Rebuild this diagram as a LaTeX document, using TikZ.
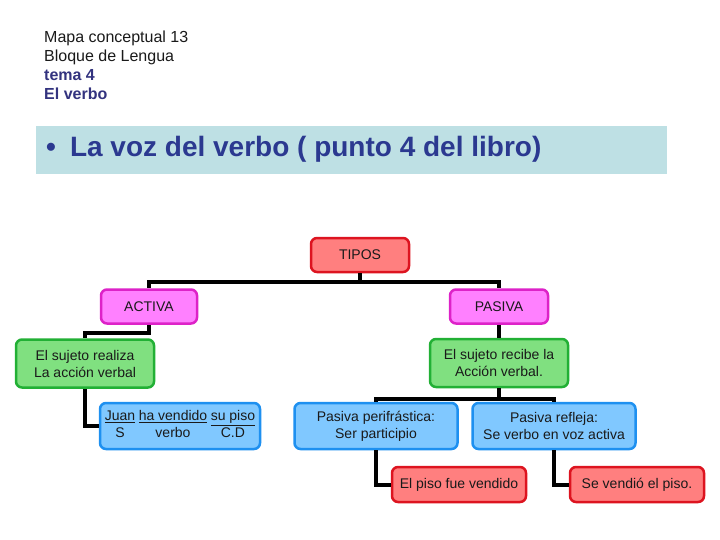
\documentclass[tikz,border=0pt]{standalone}
\usepackage{fontspec}
\setmainfont{Liberation Sans}
\definecolor{hdrblue}{HTML}{33337F}
\definecolor{titleblue}{HTML}{2B3990}
\definecolor{barbg}{HTML}{BEE0E4}
\definecolor{redfill}{HTML}{FF7F7F}
\definecolor{redline}{HTML}{DD1420}
\definecolor{magfill}{HTML}{FF80FF}
\definecolor{magline}{HTML}{DD22C8}
\definecolor{grnfill}{HTML}{80E080}
\definecolor{grnline}{HTML}{22B035}
\definecolor{blufill}{HTML}{80C8FF}
\definecolor{bluline}{HTML}{1E90F0}
\definecolor{txt}{HTML}{1A1A1A}
\begin{document}
\begin{tikzpicture}[x=1pt,y=-1pt,
  box/.style={rounded corners=6pt,line width=2.5pt,align=center,inner sep=0pt,
    font=\fontsize{14}{17}\selectfont,text=txt},
  redbox/.style={box,fill=redfill,draw=redline},
  magbox/.style={box,fill=magfill,draw=magline},
  grnbox/.style={box,fill=grnfill,draw=grnline},
  blubox/.style={box,fill=blufill,draw=bluline},
  conn/.style={line width=4pt,black}]
\useasboundingbox (0,0) rectangle (720,540);
\fill[white] (0,0) rectangle (720,540);
% header
\node[anchor=base west,align=left,inner sep=0pt,font=\fontsize{16}{19}\selectfont,text=txt] (hdr) at (44,100)
  {Mapa conceptual 13\\Bloque de Lengua\\\textbf{\color{hdrblue}tema 4}\\\textbf{\color{hdrblue}El verbo}};
% title bar
\fill[barbg] (36,126) rectangle (667,174);
\node[anchor=base west,inner sep=0pt,font=\fontsize{28}{32}\selectfont\bfseries,text=titleblue] (title) at (46,157)
  {\textbullet\hspace{14pt}La voz del verbo ( punto 4 del libro)};
% nodes
\node[redbox,minimum width=98pt,minimum height=34pt] (tipos) at (360,255) {TIPOS};
\node[magbox,minimum width=96pt,minimum height=34pt] (activa) at (149,306.5) {ACTIVA};
\node[magbox,minimum width=98pt,minimum height=34pt] (pasiva) at (499,306.5) {PASIVA};
\node[grnbox,minimum width=138pt,minimum height=48pt] (g1) at (85,363.5) {El sujeto realiza\\La acción verbal};
\node[grnbox,minimum width=138pt,minimum height=48pt] (g2) at (499,363) {El sujeto recibe la\\Acción verbal.};
\node[blubox,minimum width=160pt,minimum height=46pt] (b1) at (180,426)
  {\begin{tabular}{@{}c@{\hspace{3.5pt}}c@{\hspace{3.5pt}}c@{}}\underline{Juan}&\underline{ha vendido}&\underline{su piso}\\ S&verbo&C.D\end{tabular}};
\node[blubox,minimum width=163pt,minimum height=46pt] (b2) at (376,426) {Pasiva perifrástica:\\Ser participio};
\node[blubox,minimum width=163pt,minimum height=46pt] (b3) at (554,426) {Pasiva refleja:\\Se verbo en voz activa};
\node[redbox,minimum width=134pt,minimum height=35pt] (r2) at (459,484.5) {El piso fue vendido};
\node[redbox,minimum width=134pt,minimum height=35pt] (r3) at (637,484.5) {Se vendió el piso.};
% connectors
\draw[conn] (tipos.south) -- ++(0,9) coordinate (bus) -| (activa.north);
\draw[conn] (bus) -| (pasiva.north);
\draw[conn] (activa.south) -- ++(0,8) -| (g1.north);
\draw[conn] (pasiva.south) -- (g2.north);
\draw[conn] (g1.south) |- (b1.west);
\draw[conn] (g2.south) -- ++(0,11) coordinate (bus2) -| (b2.north);
\draw[conn] (bus2) -| (b3.north);
\draw[conn] (b2.south) |- (r2.west);
\draw[conn] (b3.south) |- (r3.west);
\end{tikzpicture}
\end{document}
